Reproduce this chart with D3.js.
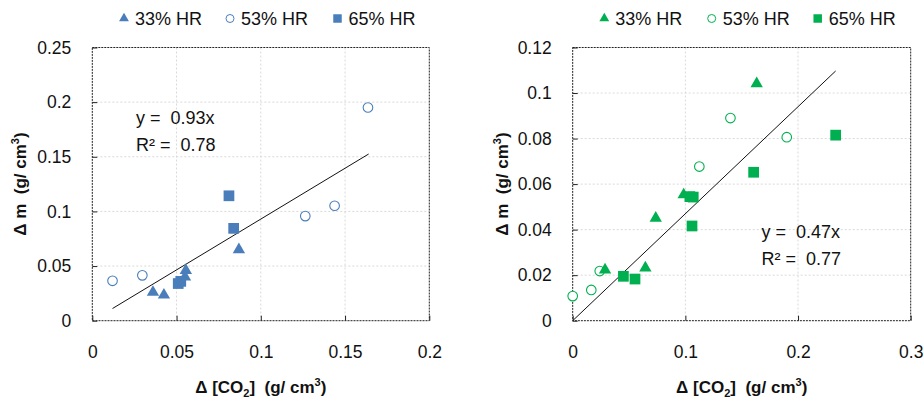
<!DOCTYPE html>
<html>
<head>
<meta charset="utf-8">
<script src="https://cdn.jsdelivr.net/npm/d3@7"></script>
<style>
  html, body { margin: 0; padding: 0; background: #fff; }
  svg { display: block; font-family: "Liberation Sans", Arial, sans-serif; }
</style>
</head>
<body>
<svg id="chart" width="924" height="401"></svg>
<script>
// ---- Data ----
const seriesNames = ["33% HR", "53% HR", "65% HR"];

// Left panel (blue)
const leftHR33 = [[0.036, 0.026], [0.0425, 0.0235], [0.055, 0.040], [0.0555, 0.046], [0.087, 0.065]];
const leftHR53 = [[0.012, 0.0365], [0.0297, 0.0415], [0.1264, 0.0957], [0.1438, 0.1052], [0.1636, 0.1951]];
const leftHR65 = [[0.051, 0.034], [0.0525, 0.036], [0.0811, 0.1143], [0.0839, 0.0845]];
const leftXTicks = [0, 0.05, 0.1, 0.15, 0.2];
const leftYTicks = [0, 0.05, 0.1, 0.15, 0.2, 0.25];
const leftSlope = 0.93, leftR2 = 0.78, leftFitRange = [0.012, 0.164];

// Right panel (green)
const rightHR33 = [[0.0287, 0.0223], [0.0645, 0.0232], [0.0737, 0.0450], [0.0985, 0.0553], [0.1633, 0.1041]];
const rightHR53 = [[0.0, 0.0108], [0.0165, 0.0135], [0.024, 0.0218], [0.1124, 0.0677], [0.140, 0.0890], [0.190, 0.0806]];
const rightHR65 = [[0.045, 0.0195], [0.0553, 0.0183], [0.104, 0.0545], [0.107, 0.0543], [0.1059, 0.0416], [0.1606, 0.0652], [0.2334, 0.0815]];
const rightXTicks = [0, 0.1, 0.2, 0.3];
const rightYTicks = [0, 0.02, 0.04, 0.06, 0.08, 0.1, 0.12];
const rightSlope = 0.47, rightR2 = 0.77, rightFitRange = [0, 0.2334];

const svg = d3.select("#chart");
const NB = "\u00a0";

function fmt(v) { return v === 0 ? "0" : String(+v.toFixed(3)); }

function drawPanel(o) {
  const x = d3.scaleLinear().domain(o.xDomain).range([o.left, o.right]);
  const y = d3.scaleLinear().domain(o.yDomain).range([o.bottom, o.top]);
  const g = svg.append("g");

  // grid
  g.append("g").selectAll("line").data(o.xTicks.slice(1, -1)).join("line")
    .attr("x1", d => x(d)).attr("x2", d => x(d))
    .attr("y1", o.top).attr("y2", o.bottom)
    .attr("stroke", "#d9d9d9").attr("stroke-dasharray", "2,2").attr("stroke-width", 1);
  g.append("g").selectAll("line").data(o.yTicks.slice(1, -1)).join("line")
    .attr("y1", d => y(d)).attr("y2", d => y(d))
    .attr("x1", o.left).attr("x2", o.right)
    .attr("stroke", "#d9d9d9").attr("stroke-dasharray", "2,2").attr("stroke-width", 1);

  // axes (ticks inside)
  const xAxis = d3.axisBottom(x).tickValues(o.xTicks).tickSize(-5).tickPadding(25).tickFormat(fmt);
  const yAxis = d3.axisLeft(y).tickValues(o.yTicks).tickSize(-5).tickPadding(21).tickFormat(fmt);
  const gx = g.append("g").attr("transform", `translate(0,${o.bottom})`).call(xAxis);
  const gy = g.append("g").attr("transform", `translate(${o.left},0)`).call(yAxis);
  [gx, gy].forEach(a => {
    a.select(".domain").remove();
    a.selectAll(".tick line").attr("stroke", "#222");
    a.selectAll(".tick text").attr("font-size", 17.5).attr("fill", "#111")
      .attr("font-family", "Liberation Sans, Arial, sans-serif");
  });

  // border
  g.append("rect").attr("x", o.left).attr("y", o.top)
    .attr("width", o.right - o.left).attr("height", o.bottom - o.top)
    .attr("fill", "none").attr("stroke", "#222").attr("stroke-width", 1)
    .attr("stroke-dasharray", "2,1");

  // fit line
  g.append("line")
    .attr("x1", x(o.fitRange[0])).attr("y1", y(o.slope * o.fitRange[0]))
    .attr("x2", x(o.fitRange[1])).attr("y2", y(o.slope * o.fitRange[1]))
    .attr("stroke", "#111").attr("stroke-width", 1);

  const tri = d3.symbol().type(d3.symbolTriangle).size(66);
  const sq = d3.symbol().type(d3.symbolSquare).size(115);

  // 53% circles
  g.append("g").selectAll("circle").data(o.s53).join("circle")
    .attr("cx", d => x(d[0])).attr("cy", d => y(d[1])).attr("r", 4.8)
    .attr("fill", "#fff").attr("stroke", o.color).attr("stroke-width", 1.1);
  // 33% triangles
  g.append("g").selectAll("path").data(o.s33).join("path")
    .attr("d", tri).attr("transform", d => `translate(${x(d[0])},${y(d[1])})`)
    .attr("fill", o.color);
  // 65% squares
  g.append("g").selectAll("path").data(o.s65).join("path")
    .attr("d", sq).attr("transform", d => `translate(${x(d[0])},${y(d[1])})`)
    .attr("fill", o.color);

  // equation
  const eq = g.append("text").attr("font-size", 18).attr("fill", "#111")
    .attr("font-family", "Liberation Sans, Arial, sans-serif");
  eq.append("tspan").attr("x", o.eqX).attr("y", o.eqY).text(`y =${NB}${NB}${o.slope.toFixed(2)}x`);
  eq.append("tspan").attr("x", o.eqX).attr("y", o.eqY + 27).text(`R² =${NB}${NB}${o.r2.toFixed(2)}`);

  // axis titles
  const xt = g.append("text").attr("x", (o.left + o.right) / 2).attr("y", 393)
    .attr("text-anchor", "middle").attr("font-size", 17).attr("font-weight", "bold").attr("fill", "#111");
  xt.append("tspan").text("Δ [CO");
  xt.append("tspan").attr("font-size", 11).attr("dy", 4).text("2");
  xt.append("tspan").attr("dy", -4).text(`]${NB}${NB}(g/ cm`);
  xt.append("tspan").attr("font-size", 11).attr("dy", -7).text("3");
  xt.append("tspan").attr("dy", 7).text(")");

  const yt = g.append("text")
    .attr("transform", `translate(${o.yTitleX},${(o.top + o.bottom) / 2}) rotate(-90)`)
    .attr("text-anchor", "middle").attr("font-size", 17).attr("font-weight", "bold").attr("fill", "#111");
  yt.append("tspan").text(`Δ m${NB}${NB}(g/ cm`);
  yt.append("tspan").attr("font-size", 11).attr("dy", -7).text("3");
  yt.append("tspan").attr("dy", 7).text(")");

  // legend
  const lg = g.append("g");
  const ly = 18.5;
  const symX = o.legendX;
  const ltri = d3.symbol().type(d3.symbolTriangle).size(42);
  const lsq = d3.symbol().type(d3.symbolSquare).size(72);
  lg.append("path").attr("d", ltri).attr("transform", `translate(${symX[0]},${ly})`).attr("fill", o.color);
  lg.append("circle").attr("cx", symX[1]).attr("cy", ly).attr("r", 4)
    .attr("fill", "#fff").attr("stroke", o.color).attr("stroke-width", 1);
  lg.append("path").attr("d", lsq).attr("transform", `translate(${symX[2]},${ly})`).attr("fill", o.color);
  seriesNames.forEach((n, i) => {
    lg.append("text").attr("x", symX[i] + 11).attr("y", ly + 6.5)
      .attr("font-size", 18).attr("fill", "#111").text(n);
  });
}

drawPanel({
  left: 92.3, right: 429.3, top: 47.5, bottom: 320.7,
  xDomain: [0, 0.2], yDomain: [0, 0.25],
  xTicks: leftXTicks, yTicks: leftYTicks,
  s33: leftHR33, s53: leftHR53, s65: leftHR65,
  slope: leftSlope, r2: leftR2, fitRange: leftFitRange,
  color: "#4a7ebb",
  eqX: 136, eqY: 124, yTitleX: 26,
  legendX: [124, 230, 337.5]
});

drawPanel({
  left: 572.7, right: 910.7, top: 47.5, bottom: 320.7,
  xDomain: [0, 0.3], yDomain: [0, 0.12],
  xTicks: rightXTicks, yTicks: rightYTicks,
  s33: rightHR33, s53: rightHR53, s65: rightHR65,
  slope: rightSlope, r2: rightR2, fitRange: rightFitRange,
  color: "#00b050",
  eqX: 761.5, eqY: 238, yTitleX: 508,
  legendX: [604.3, 711.7, 817.7]
});
</script>
</body>
</html>
